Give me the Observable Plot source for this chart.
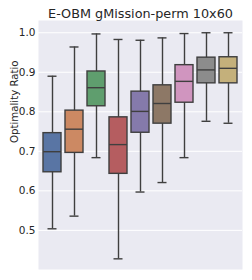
<!DOCTYPE html>
<html><head><meta charset="utf-8">
<script src="https://cdn.jsdelivr.net/npm/d3@7"></script>
<script src="https://cdn.jsdelivr.net/npm/@observablehq/plot@0.6"></script>
<style>body{margin:0;background:#fff;}svg{display:block;}</style>
</head><body><div id="chart"></div>
<script>
const titleText = "E-OBM gMission-perm 10x60";
const yLabel = "Optimality Ratio";
const categories = ["1","2","3","4","5","6","7","8","9"];
const colors = ["#5975a4","#cc8963","#5f9e6e","#b55d60","#857aab","#8d7866","#d095bf","#8c8c8c","#c4b07b"];
const whiskerLow  = [0.504,0.536,0.684,0.428,0.597,0.621,0.684,0.776,0.771];
const q1          = [0.647,0.696,0.814,0.643,0.747,0.770,0.823,0.872,0.872];
const median      = [0.699,0.756,0.861,0.717,0.801,0.821,0.877,0.906,0.910];
const q3          = [0.746,0.803,0.902,0.786,0.851,0.867,0.918,0.937,0.938];
const whiskerHigh = [0.890,0.964,0.997,0.983,0.981,0.987,0.998,1.000,1.000];
const yTicks = [0.5,0.6,0.7,0.8,0.9,1.0];

const data = categories.map((c,i)=>({cat:c, lo:whiskerLow[i], q1:q1[i], med:median[i], q3:q3[i], hi:whiskerHigh[i]}));
const edge = "#3f3f3f";
const font = "DejaVu Sans";

const chart = Plot.plot({
  width: 252, height: 280,
  marginLeft: 38, marginRight: 10, marginTop: 20, marginBottom: 11,
  style: {fontFamily: font, background: "#fff"},
  x: {type: "band", domain: categories, paddingInner: 0.2, paddingOuter: 0.1, axis: null},
  y: {domain: [0.401, 1.031]},
  color: {domain: categories, range: colors},
  marks: [
    Plot.frame({fill: "#eaeaf2", stroke: null}),
    Plot.gridY(yTicks, {stroke: "#fff", strokeOpacity: 1, strokeWidth: 1}),
    Plot.axisY(yTicks, {tickSize: 0, tickPadding: 3, tickFormat: d3.format(".1f"), fontSize: 10.5, fill: "#262626", label: null}),
    Plot.ruleX(data, {x: "cat", y1: "lo", y2: "hi", stroke: edge, strokeWidth: 1.4}),
    Plot.tickY(data, {x: "cat", y: "lo", stroke: edge, strokeWidth: 1.4, insetLeft: 4.5, insetRight: 4.5}),
    Plot.tickY(data, {x: "cat", y: "hi", stroke: edge, strokeWidth: 1.4, insetLeft: 4.5, insetRight: 4.5}),
    Plot.barY(data, {x: "cat", y1: "q1", y2: "q3", fill: "cat", stroke: edge, strokeWidth: 1.4}),
    Plot.tickY(data, {x: "cat", y: "med", stroke: edge, strokeWidth: 1.4}),
    Plot.text([titleText], {frameAnchor: "top", dy: -3, lineAnchor: "bottom", fontSize: 12.8, fill: "#262626"}),
    Plot.text([yLabel], {frameAnchor: "left", dx: -24, dy: -2, rotate: -90, fontSize: 10.2, fill: "#262626"})
  ]
});
document.getElementById("chart").append(chart);
</script></body></html>
